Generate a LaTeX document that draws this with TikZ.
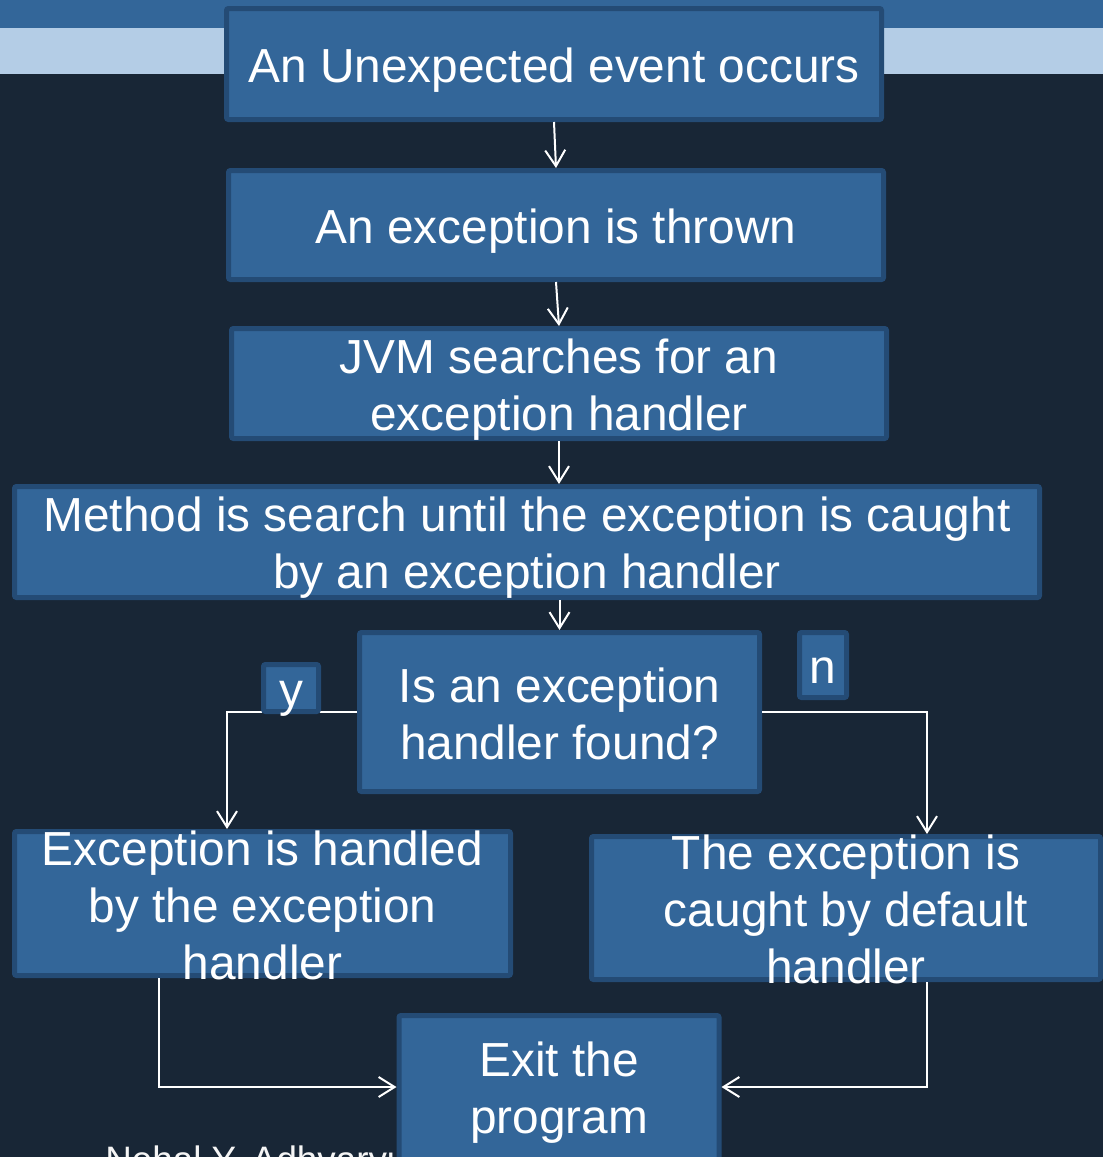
\documentclass[tikz,border=0pt]{standalone}
\usepackage{fontspec}
\setmainfont{Liberation Sans}
\usetikzlibrary{arrows.meta}
\definecolor{fondoNoche}{HTML}{182636}
\definecolor{azulCaja}{HTML}{336699}
\definecolor{bordeCaja}{HTML}{244B75}
\definecolor{azulClaro}{HTML}{B4CDE6}

\tikzset{
  procbox/.style={draw=bordeCaja,fill=azulCaja,line width=2.5pt,rounded corners=1pt,inner sep=0pt},
  boxtxt/.style={text=white,align=center,inner sep=0pt,font=\fontsize{23.9}{28.5}\selectfont},
  flecha/.style={white,line width=1pt,-{Straight Barb[length=8pt,width=10pt]}},
  linea/.style={white,line width=1pt}
}

\begin{document}
\begin{tikzpicture}[x=0.5pt,y=-0.5pt]
  % fondo y bandas
  \fill[fondoNoche] (0,0) rectangle (1103,1157);
  \useasboundingbox (0,0) rectangle (1103,1157);
  \fill[azulCaja] (0,0) rectangle (1103,28);
  \fill[azulClaro] (0,28) rectangle (1103,74);
  \node[anchor=north west,text=white!92!gray,font=\fontsize{18.4}{21}\selectfont,inner sep=0pt]
    (autor) at (105,1145) {Nehal Y. Adhvaryu};

  % cajas
  \node[procbox,minimum width=327.5pt,minimum height=55.5pt,
    label={[boxtxt,yshift=-3.25pt]center:An Unexpected event occurs}] (evento) at (554,64) {};
  \node[procbox,minimum width=327.5pt,minimum height=54.5pt,
    label={[boxtxt,yshift=-3pt]center:An exception is thrown}] (lanzada) at (556,225) {};
  \node[procbox,minimum width=327.5pt,minimum height=55pt,
    label={[boxtxt,yshift=-3.25pt]center:{JVM searches for an\\exception handler}}] (jvm) at (559,383.5) {};
  \node[procbox,minimum width=512.5pt,minimum height=55.5pt,
    label={[boxtxt,yshift=-3pt]center:{Method is search until the exception is caught\\by an exception handler}}]
    (metodo) at (527,542) {};
  \node[procbox,minimum width=200pt,minimum height=79.5pt,
    label={[boxtxt,yshift=-0.75pt]center:{Is an exception\\handler found?}}] (decision) at (559.5,712) {};
  \node[procbox,minimum width=248pt,minimum height=72pt,
    label={[boxtxt,yshift=-1pt]center:{Exception is handled\\by the exception\\handler}}] (manejada) at (262.5,903.5) {};
  \node[procbox,minimum width=254.5pt,minimum height=71.5pt,
    label={[boxtxt,yshift=-0.5pt]center:{The exception is\\caught by default\\handler}}] (defecto) at (846,908) {};
  \node[procbox,minimum width=160pt,minimum height=74pt,
    label={[boxtxt,yshift=-1.75pt]center:{Exit the\\program}}] (salida) at (559,1089.5) {};

  % conectores
  \coordinate (esqY) at (227,712);
  \coordinate (esqN) at (927,712);
  \coordinate (esqI) at (159,1087);
  \coordinate (esqD) at (927,1087);
  \draw[flecha] (evento.south) -- (lanzada.north);
  \draw[flecha] (lanzada.south) -- (jvm.north);
  \draw[flecha] (jvm.south) -- (jvm.south |- metodo.north);
  \draw[flecha] (decision.north |- metodo.south) -- (decision.north);
  \draw[flecha] (decision.west) -- (esqY) -- (esqY |- manejada.north);
  \draw[flecha] (decision.east) -- (esqN) -- (esqN |- defecto.north);
  \draw[flecha] (esqI |- manejada.south) -- (esqI) -- (esqI -| salida.west);
  \draw[flecha] (esqD |- defecto.south) -- (esqD) -- (esqD -| salida.east);

  % etiquetas si / no
  \node[procbox,minimum width=27.5pt,minimum height=23.5pt,
    label={[boxtxt,yshift=-5.5pt]center:y}] (si) at (291,688) {};
  \node[procbox,minimum width=23.5pt,minimum height=32.5pt,
    label={[boxtxt,yshift=-3pt]center:n}] (no) at (823,665) {};
\end{tikzpicture}
\end{document}
